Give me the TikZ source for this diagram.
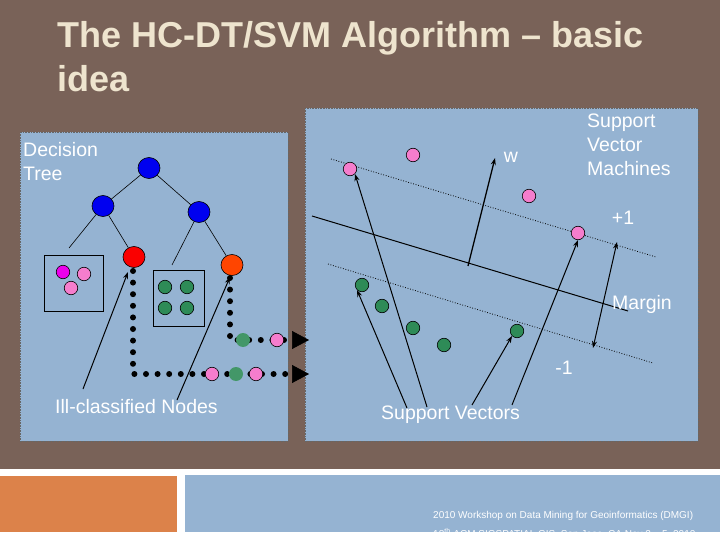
\documentclass[tikz,border=0pt]{standalone}
\usepackage{fontspec}
\setmainfont{Liberation Sans}
\usetikzlibrary{arrows.meta,shapes.geometric}
\definecolor{bgbrown}{RGB}{121,98,88}
\definecolor{panelblue}{RGB}{149,179,210}
\definecolor{footorange}{RGB}{220,130,74}
\definecolor{titlecream}{RGB}{238,228,206}
\definecolor{dotpink}{RGB}{245,125,205}
\definecolor{dotmagenta}{RGB}{235,0,235}
\definecolor{dotgreen}{RGB}{46,139,87}
\definecolor{treeblue}{RGB}{0,0,240}
\definecolor{treered}{RGB}{250,0,0}
\definecolor{treeorange}{RGB}{255,69,0}
\begin{document}
\begin{tikzpicture}[x=1pt,y=-1pt,
  tnode/.style={ellipse,draw=black,line width=0.6pt,minimum width=22pt,minimum height=21pt,inner sep=0pt},
  sdot/.style={circle,draw=black,line width=0.6pt,minimum size=13.5pt,inner sep=0pt},
  pinkdot/.style={sdot,fill=dotpink},
  magdot/.style={sdot,fill=dotmagenta},
  greendot/.style={sdot,fill=dotgreen},
  pathgreen/.style={circle,fill=dotgreen!90!white,minimum size=14pt,inner sep=0pt},
  panel/.style={fill=panelblue,draw=black!60,line width=0.6pt,densely dotted},
  edge/.style={draw=black,line width=0.6pt},
  bigdots/.style={line width=6pt,line cap=round,dash pattern=on 0pt off 11.6pt,
     -{Triangle[length=17pt,width=18pt,line width=0.5pt]}},
  thinarrow/.style={line width=1pt,-{Stealth[length=7pt,width=5pt]}},
  dotline/.style={line width=0.8pt,dash pattern=on 0.8pt off 1.8pt},
  lbl/.style={text=white,inner sep=0pt,font=\fontsize{19.5}{24}\selectfont},
  title/.style={text=titlecream,inner sep=0pt,font=\fontsize{36}{44}\selectfont\bfseries,anchor=base west},
  foot/.style={text=white,inner sep=0pt,font=\fontsize{10}{12}\selectfont,anchor=base west}
]
\useasboundingbox (0,0) rectangle (720,540);
% background
\fill[white] (0,0) rectangle (720,540);
\fill[bgbrown] (0,0) rectangle (720,469);
\fill[footorange] (0,476) rectangle (177,532);
\fill[panelblue] (185,475) rectangle (720,532);
% title
\node[title] (t1) at (57,48) {The HC-DT/SVM Algorithm – basic};
\node[title] (t2) at (57,92) {idea};
% panels
\path[panel] (20,132) rectangle (288,441);
\path[panel] (305,108) rectangle (698,441);
% ---------------- decision tree ----------------
\node[lbl,anchor=base west] (dt1) at (23,157) {Decision};
\node[lbl,anchor=base west] (dt2) at (23,181) {Tree};
\node[tnode,fill=treeblue] (root) at (149,168) {};
\node[tnode,fill=treeblue] (lch) at (103,206) {};
\node[tnode,fill=treeblue] (rch) at (199,212) {};
\node[tnode,fill=treered] (redn) at (134,257) {};
\node[tnode,fill=treeorange] (orn) at (232,265) {};
\node[draw=black,line width=0.8pt,minimum width=59pt,minimum height=56pt,inner sep=0pt] (box1) at (73.5,283) {};
\node[draw=black,line width=0.8pt,minimum width=51pt,minimum height=56pt,inner sep=0pt] (box2) at (178.5,298) {};
\coordinate (b1top) at (69,248);
\coordinate (b2top) at (172,265);
\draw[edge] (root) -- (lch);
\draw[edge] (root) -- (rch);
\draw[edge] (lch) -- (b1top);
\draw[edge] (lch) -- (redn);
\draw[edge] (rch) -- (b2top);
\draw[edge] (rch) -- (orn);
\node[magdot] (m1) at (63,272) {};
\node[pinkdot] (m2) at (84,274) {};
\node[pinkdot] (m3) at (71,288) {};
\node[greendot] (k1) at (165,287) {};
\node[greendot] (k2) at (187,287) {};
\node[greendot] (k3) at (165,308) {};
\node[greendot] (k4) at (187,308) {};
% dotted paths
\coordinate (lowS) at (133,271);
\coordinate (lowC) at (133,374);
\coordinate (lowE) at (309,374);
\coordinate (upS) at (230,278);
\coordinate (upC) at (230,340);
\coordinate (upE) at (309,340);
\draw[bigdots] (lowS) -- (lowC) -- (lowE);
\draw[bigdots] (upS) -- (upC) -- (upE);
\node[pathgreen] (pg1) at (243,340) {};
\node[pinkdot] (pp1) at (277,340) {};
\node[pinkdot] (pp2) at (212,374) {};
\node[pathgreen] (pg2) at (236,374) {};
\node[pinkdot] (pp3) at (256,374) {};
% ill-classified
\node[lbl,anchor=base west] (ill) at (55,413) {Ill-classified Nodes};
\coordinate (ia1) at (83,389);
\coordinate (ia2) at (177,400);
\coordinate (it1) at (128,272);
\coordinate (it2) at (230,277);
\draw[thinarrow] (ia1) -- (it1);
\draw[thinarrow] (ia2) -- (it2);
% ---------------- SVM ----------------
\node[lbl,anchor=base west] (s1) at (587,128) {Support};
\node[lbl,anchor=base west] (s2) at (587,152) {Vector};
\node[lbl,anchor=base west] (s3) at (587,176) {Machines};
\coordinate (u1) at (331,159);
\coordinate (u2) at (656,257);
\coordinate (h1) at (312,216);
\coordinate (h2) at (628,311);
\coordinate (d1) at (328,264);
\coordinate (d2) at (653,363);
\draw[dotline] (u1) -- (u2);
\draw[black,line width=1pt] (h1) -- (h2);
\draw[dotline] (d1) -- (d2);
\coordinate (w1) at (468,266);
\coordinate (w2) at (495,158);
\draw[thinarrow,line width=1.3pt] (w1) -- (w2);
\node[lbl,anchor=base] (wl) at (511,163) {w};
\coordinate (mA) at (617,242);
\coordinate (mB) at (593,348);
\draw[line width=1pt,{Stealth[length=7pt,width=5pt]}-{Stealth[length=7pt,width=5pt]}] (mA) -- (mB);
\node[lbl,anchor=base] (plus) at (623,225) {+1};
\node[lbl,anchor=base] (marg) at (642,309) {Margin};
\node[lbl,anchor=base] (minus) at (564,374) {-1};
\node[pinkdot] (p1) at (350,169) {};
\node[pinkdot] (p2) at (413,155) {};
\node[pinkdot] (p3) at (529,196) {};
\node[pinkdot] (p4) at (578,233) {};
\node[greendot] (g1) at (362,285) {};
\node[greendot] (g2) at (382,306) {};
\node[greendot] (g3) at (413,328) {};
\node[greendot] (g4) at (444,345) {};
\node[greendot] (g5) at (517,331) {};
\node[lbl,anchor=base west] (sv) at (381,419) {Support Vectors};
\coordinate (sa1) at (407,408);
\coordinate (sa2) at (427,407);
\coordinate (sa3) at (472,405);
\coordinate (sa4) at (512,405);
\draw[thinarrow] (sa1) -- (g1.south west);
\draw[thinarrow] (sa2) -- (p1.south east);
\draw[thinarrow] (sa3) -- (g5.south west);
\draw[thinarrow] (sa4) -- (p4.south);
% footer text
\begin{scope}
\clip (185,475) rectangle (720,532);
\node[foot] (f1) at (433,518) {2010 Workshop on Data Mining for Geoinformatics (DMGI)};
\node[foot] (f2) at (433,537) {18\textsuperscript{th} ACM SIGSPATIAL GIS, San Jose, CA Nov 2 – 5, 2010};
\end{scope}
\end{tikzpicture}
\end{document}
